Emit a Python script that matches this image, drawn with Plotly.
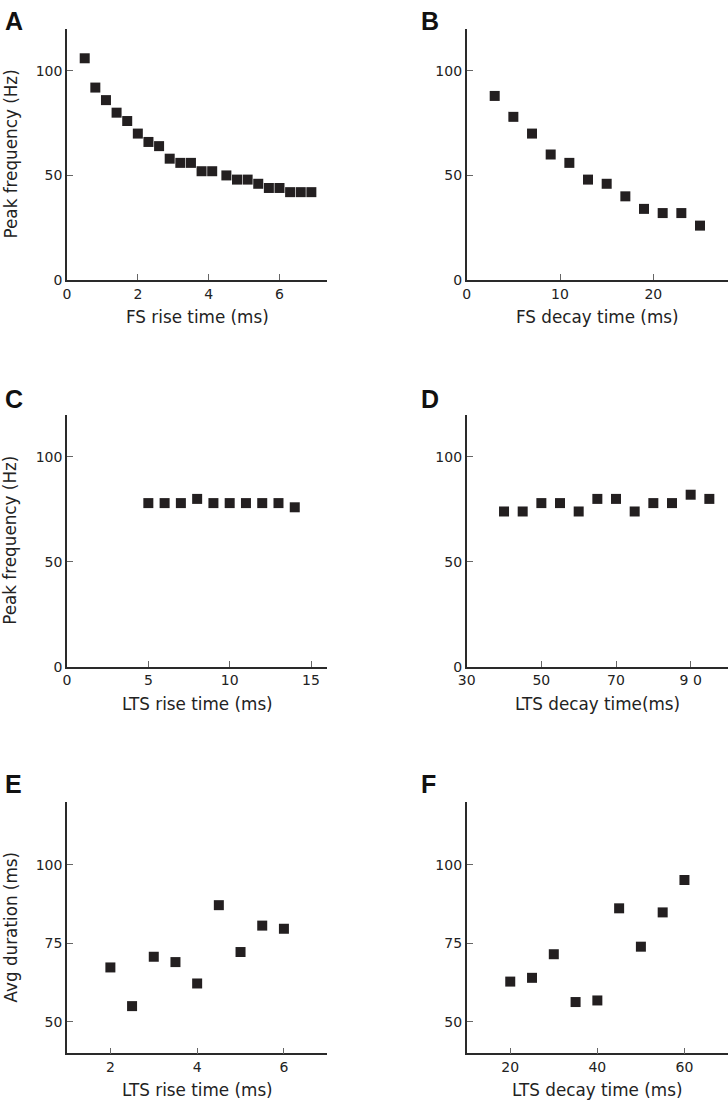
import plotly.graph_objects as go
from plotly.subplots import make_subplots

# ---- data ----
fs_rise_x = [0.5, 0.8, 1.1, 1.4, 1.7, 2.0, 2.3, 2.6, 2.9, 3.2, 3.5, 3.8, 4.1, 4.5, 4.8, 5.1, 5.4, 5.7, 6.0, 6.3, 6.6, 6.9]
fs_rise_y = [106, 92, 86, 80, 76, 70, 66, 64, 58, 56, 56, 52, 52, 50, 48, 48, 46, 44, 44, 42, 42, 42]

fs_decay_x = [3, 5, 7, 9, 11, 13, 15, 17, 19, 21, 23, 25]
fs_decay_y = [88, 78, 70, 60, 56, 48, 46, 40, 34, 32, 32, 26]

lts_rise_x = [5, 6, 7, 8, 9, 10, 11, 12, 13, 14]
lts_rise_y = [78, 78, 78, 80, 78, 78, 78, 78, 78, 76]

lts_decay_x = [40, 45, 50, 55, 60, 65, 70, 75, 80, 85, 90, 95]
lts_decay_y = [74, 74, 78, 78, 74, 80, 80, 74, 78, 78, 82, 80]

dur_rise_x = [2, 2.5, 3, 3.5, 4, 4.5, 5, 5.5, 6]
dur_rise_y = [67.3, 55.0, 70.7, 69.0, 62.2, 87.1, 72.2, 80.6, 79.6]

dur_decay_x = [20, 25, 30, 35, 40, 45, 50, 55, 60]
dur_decay_y = [62.8, 64.0, 71.5, 56.3, 56.8, 86.1, 73.9, 84.8, 95.1]

panel_letters = ["A", "B", "C", "D", "E", "F"]
x_titles = ["FS rise time (ms)", "FS decay time (ms)", "LTS rise time (ms)",
            "LTS decay time(ms)", "LTS rise time (ms)", "LTS decay time (ms)"]
y_titles = ["Peak frequency (Hz)", "", "Peak frequency (Hz)", "", "Avg duration (ms)", ""]

x_tickvals = [[0, 2, 4, 6], [0, 10, 20], [0, 5, 10, 15], [30, 50, 70, 90], [2, 4, 6], [20, 40, 60]]
x_ticktext = [["0", "2", "4", "6"], ["0", "10", "20"], ["0", "5", "10", "15"],
              ["30", "50", "70", "9 0"], ["2", "4", "6"], ["20", "40", "60"]]
y_tickvals = [[0, 50, 100]] * 4 + [[50, 75, 100]] * 2
x_ranges = [[0, 7.35], [0, 28], [0, 16], [30, 100], [1, 7], [10, 70]]
y_ranges = [[0, 120]] * 4 + [[40, 120]] * 2

series = [(fs_rise_x, fs_rise_y), (fs_decay_x, fs_decay_y), (lts_rise_x, lts_rise_y),
          (lts_decay_x, lts_decay_y), (dur_rise_x, dur_rise_y), (dur_decay_x, dur_decay_y)]

# ---- layout geometry (pixels) ----
W, H = 728, 1100
col_px = [(67, 327.3), (466.7, 728)]
row_px = [(29, 280), (415, 666.7), (801.7, 1053.3)]

fig = make_subplots(rows=3, cols=2)
FONT = "DejaVu Sans"
INK = "#231f20"

for i, (xs, ys) in enumerate(series):
    r, c = i // 2, i % 2
    fig.add_trace(go.Scatter(x=xs, y=ys, mode="markers",
                             marker=dict(symbol="square", size=10, color=INK, line=dict(width=0)),
                             showlegend=False, cliponaxis=False),
                  row=r + 1, col=c + 1)
    n = "" if i == 0 else str(i + 1)
    x0, x1 = col_px[c]
    y0, y1 = row_px[r]
    common = dict(showgrid=False, zeroline=False, showline=True, linecolor="#2a2a2a", linewidth=1.6,
                  ticks="inside", ticklen=6, tickwidth=1, tickcolor="#666", automargin=False,
                  tickfont=dict(family=FONT, size=14, color="#222"))
    fig.layout["xaxis" + n].update(domain=[x0 / W, x1 / W], range=x_ranges[i],
                                   tickmode="array", tickvals=x_tickvals[i], ticktext=x_ticktext[i],
                                   **common)
    fig.layout["yaxis" + n].update(domain=[1 - y1 / H, 1 - y0 / H], range=y_ranges[i],
                                   tickmode="array", tickvals=y_tickvals[i], **common)
    xa = "x" + n
    ya = "y" + n
    fig.add_annotation(text=x_titles[i], xref=xa + " domain", yref=ya + " domain",
                       x=0.5, y=0, yshift=-37, xanchor="center", yanchor="middle",
                       showarrow=False, font=dict(family=FONT, size=16.8, color="#222"))
    if y_titles[i]:
        fig.add_annotation(text=y_titles[i], xref=xa + " domain", yref=ya + " domain",
                           x=0, y=0.5, xshift=-57, xanchor="center", yanchor="middle",
                           textangle=-90, showarrow=False,
                           font=dict(family=FONT, size=16.8, color="#222"))
    lx = 3 if c == 0 else 419
    ly = [5, 383, 768][r]
    fig.add_annotation(text="<b>" + panel_letters[i] + "</b>", xref="paper", yref="paper",
                       x=lx / W, y=1 - ly / H, xanchor="left", yanchor="top", showarrow=False,
                       font=dict(family="Liberation Sans", size=25, color="#111"))

fig.update_layout(width=W, height=H, margin=dict(l=0, r=0, t=0, b=0), autosize=False,
                  paper_bgcolor="white", plot_bgcolor="white")

fig.write_html("out.html", config={"responsive": False, "displayModeBar": False},
               post_script="document.body.style.margin='0px';document.body.style.padding='0px';"
                           "document.documentElement.style.overflow='hidden';")
